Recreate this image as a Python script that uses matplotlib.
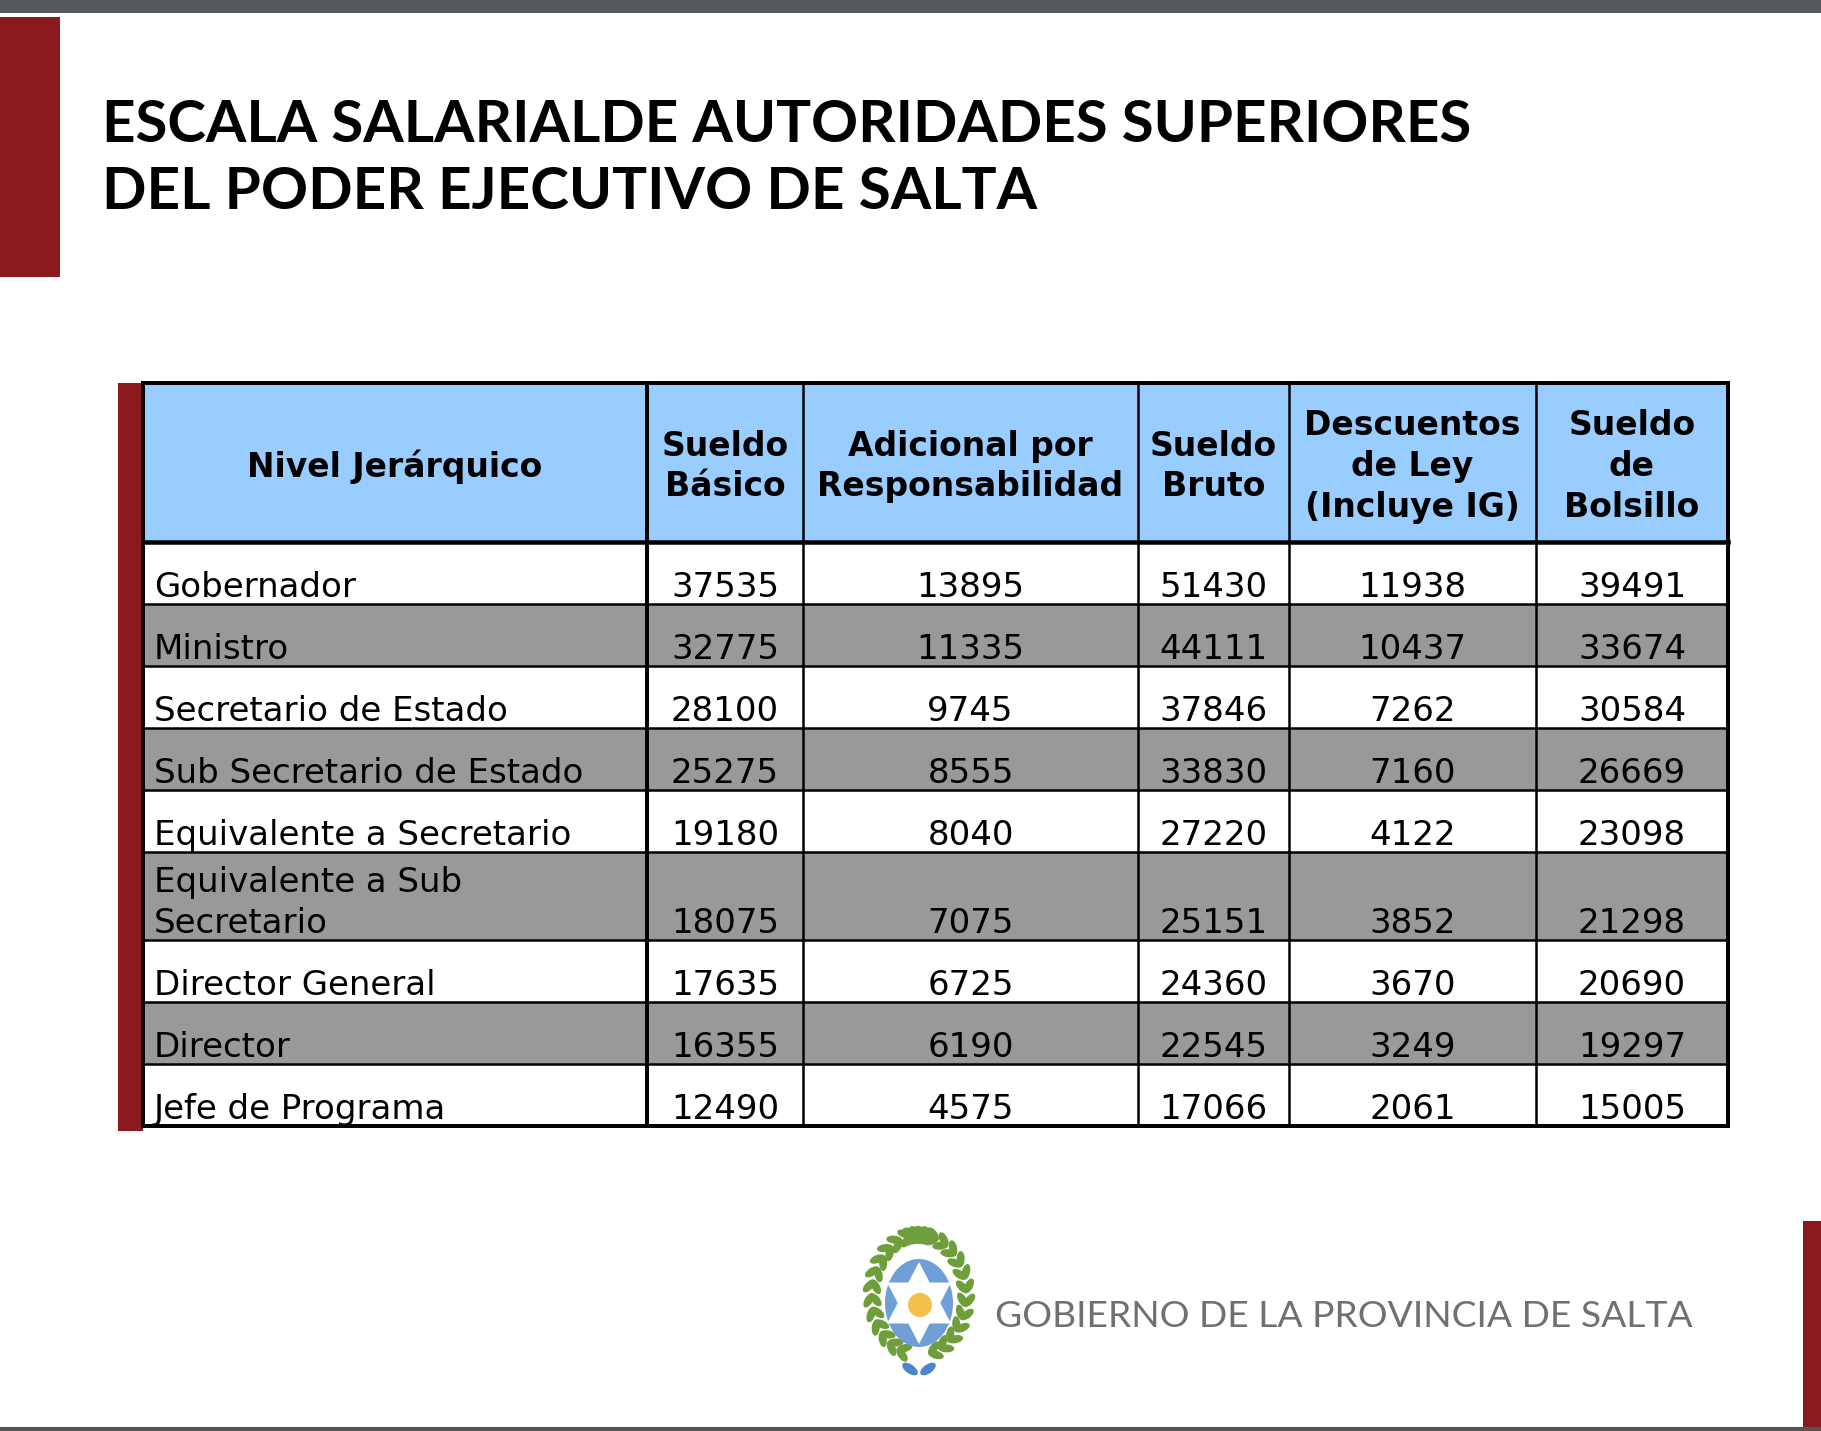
import numpy as np
import matplotlib
matplotlib.use("Agg")
import matplotlib.pyplot as plt
from matplotlib.patches import Rectangle, Ellipse, Polygon, Circle

W, H = 1821, 1431

title_lines = ["ESCALA SALARIALDE AUTORIDADES SUPERIORES",
               "DEL PODER EJECUTIVO DE SALTA"]
headers = ["Nivel Jerárquico", "Sueldo\nBásico", "Adicional por\nResponsabilidad",
           "Sueldo\nBruto", "Descuentos\nde Ley\n(Incluye IG)", "Sueldo\nde\nBolsillo"]
niveles = ["Gobernador", "Ministro", "Secretario de Estado", "Sub Secretario de Estado",
           "Equivalente a Secretario", "Equivalente a Sub\nSecretario",
           "Director General", "Director", "Jefe de Programa"]
sueldo_basico = [37535, 32775, 28100, 25275, 19180, 18075, 17635, 16355, 12490]
adicional = [13895, 11335, 9745, 8555, 8040, 7075, 6725, 6190, 4575]
sueldo_bruto = [51430, 44111, 37846, 33830, 27220, 25151, 24360, 22545, 17066]
descuentos = [11938, 10437, 7262, 7160, 4122, 3852, 3670, 3249, 2061]
bolsillo = [39491, 33674, 30584, 26669, 23098, 21298, 20690, 19297, 15005]
footer = "GOBIERNO DE LA PROVINCIA DE SALTA"

RED = "#8b1a1f"
BLUE_HDR = "#99ccff"
GRAY_ROW = "#999999"

fig = plt.figure(figsize=(W / 100, H / 100), dpi=100)
ax = fig.add_axes([0, 0, 1, 1])
ax.set_xlim(0, W)
ax.set_ylim(H, 0)
ax.axis("off")
renderer = fig.canvas.get_renderer()


def px(v):
    # pixels -> points
    return v * 72 / 100


def fit_text(x, y, s, width, **kw):
    t = ax.text(x, y, s, fontsize=30, **kw)
    w = t.get_window_extent(renderer).width
    t.set_fontsize(30 * width / w)
    return t


# page decorations
ax.add_patch(Rectangle((0, 0), W, 13, color="#55595c", lw=0))
ax.add_patch(Rectangle((0, 17), 60, 260, color=RED, lw=0))
ax.add_patch(Rectangle((1803, 1221), 18, 206, color=RED, lw=0))
ax.add_patch(Rectangle((0, 1427), W, 4, color="#555555", lw=0))

# title
fit_text(102, 142, title_lines[0], 1367, family="Lato", weight="bold", color="black")
fit_text(102, 209, title_lines[1], 935, family="Lato", weight="bold", color="black")

# table layout
col_edges = [143, 647, 803, 1138, 1289, 1536, 1728]
hdr_top, hdr_bot = 383, 542
nlines = [len(n.split("\n")) for n in niveles]
row_h = [62 + 26 * (k - 1) for k in nlines]
row_edges = [hdr_bot] + list(hdr_bot + np.cumsum(row_h))
table_bot = row_edges[-1]

ax.add_patch(Rectangle((118, hdr_top), 25, table_bot - hdr_top + 5, color=RED, lw=0))

# header
ax.add_patch(Rectangle((col_edges[0], hdr_top), col_edges[-1] - col_edges[0],
                       hdr_bot - hdr_top, facecolor=BLUE_HDR, lw=0))
fs_hdr = px(33)
for i, h in enumerate(headers):
    cx = (col_edges[i] + col_edges[i + 1]) / 2
    ax.text(cx, (hdr_top + hdr_bot) / 2 + 4, h, ha="center", va="center",
            multialignment="center", fontsize=fs_hdr,
            weight="bold", family="DejaVu Sans", linespacing=1.3)

# body rows
columns = [sueldo_basico, adicional, sueldo_bruto, descuentos, bolsillo]
fs_body = px(34)
for r, name in enumerate(niveles):
    top, bot = row_edges[r], row_edges[r + 1]
    if r % 2 == 1:
        ax.add_patch(Rectangle((col_edges[0], top), col_edges[-1] - col_edges[0],
                               bot - top, facecolor=GRAY_ROW, lw=0))
    base = bot - 7
    for k, line in enumerate(reversed(name.split("\n"))):
        ax.text(154, base - 41 * k, line, ha="left", va="baseline",
                fontsize=fs_body, family="DejaVu Sans")
    for c, vals in enumerate(columns):
        cx = (col_edges[c + 1] + col_edges[c + 2]) / 2
        ax.text(cx, base, str(vals[r]), ha="center", va="baseline",
                fontsize=fs_body, family="DejaVu Sans")

# grid lines
for y in row_edges[1:-1]:
    ax.plot([col_edges[0], col_edges[-1]], [y, y], color="black", lw=px(2.5))
ax.plot([col_edges[0], col_edges[-1]], [hdr_bot, hdr_bot], color="black", lw=px(4.5))
for i, x in enumerate(col_edges[1:-1]):
    ax.plot([x, x], [hdr_top, table_bot], color="black", lw=px(4 if i == 0 else 2.5))
ax.add_patch(Rectangle((col_edges[0], hdr_top), col_edges[-1] - col_edges[0],
                       table_bot - hdr_top, fill=False, edgecolor="black", lw=px(4)))

# logo
cx, cy = 919, 1303
ang = np.linspace(np.radians(-100), np.radians(280), 30)
for j, t in enumerate(ang):
    if np.sin(t) > 0.95:
        continue
    for off in (-7, 7):
        lx = cx + (47 + off * 0.5) * np.cos(t)
        ly = cy - 8 + (60 + off * 0.5) * np.sin(t)
        rot = np.degrees(t) + 90 + (35 if off > 0 else -35)
        ax.add_patch(Ellipse((lx, ly), 16, 8, angle=rot, color="#6e9f3c", lw=0))
ax.add_patch(Ellipse((cx, cy), 68, 88, color="#6f9fd6", lw=0))
r = 41
for a0 in (90, 270):
    pts = [(cx + r * np.cos(np.radians(a0 + k * 120)) * 0.9,
            cy + r * np.sin(np.radians(a0 + k * 120))) for k in range(3)]
    ax.add_patch(Polygon(pts, closed=True, color="white", lw=0))
ax.add_patch(Circle((cx + 1, cy + 2), 12, color="#f3c04a", lw=0))
ax.add_patch(Ellipse((cx - 9, cy + 66), 18, 9, angle=35, color="#4d86c6", lw=0))
ax.add_patch(Ellipse((cx + 9, cy + 66), 18, 9, angle=-35, color="#4d86c6", lw=0))

fit_text(995, 1327, footer, 697, family="Lato", color="#707070")

fig.savefig("out.png", dpi=100)
